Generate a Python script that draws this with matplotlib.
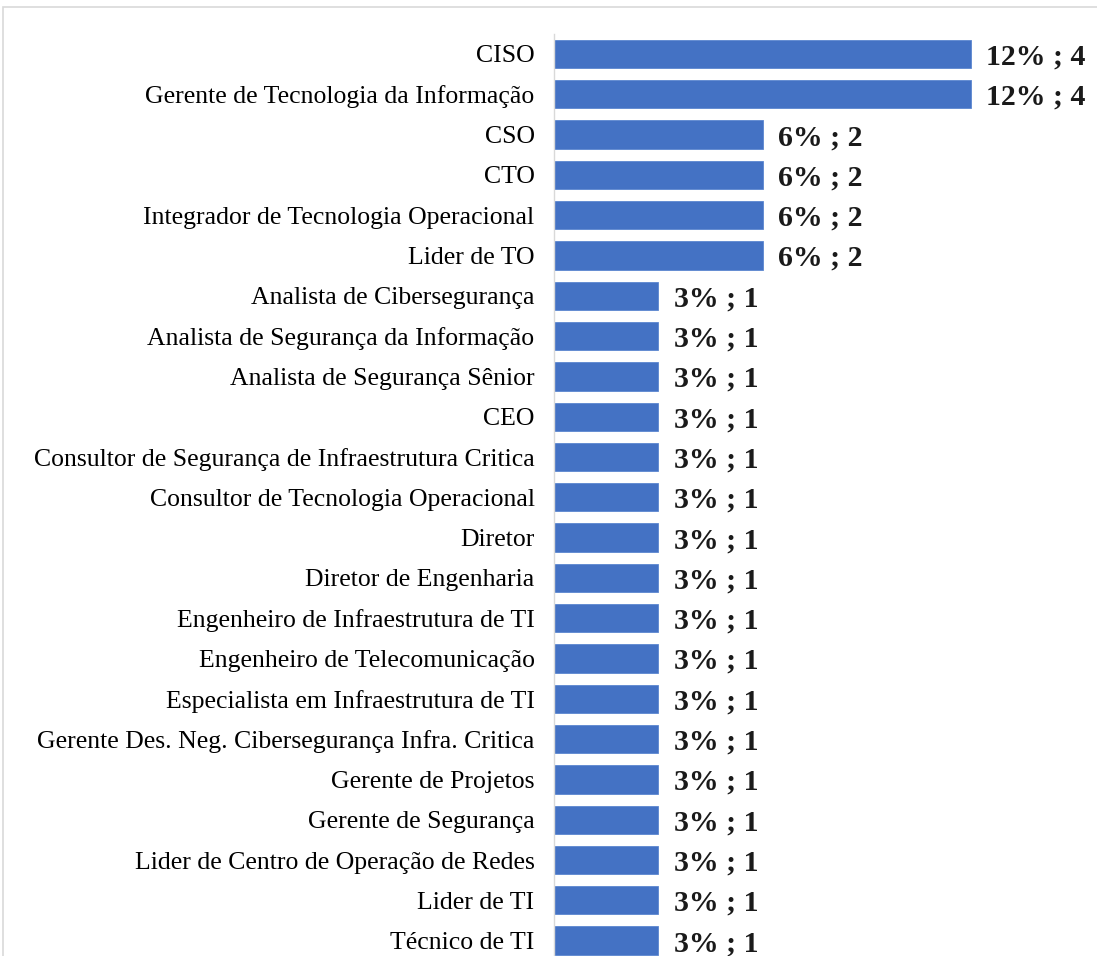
import matplotlib.pyplot as plt
from matplotlib.patches import Rectangle

# Data (top to bottom)
cargos = [
    "CISO",
    "Gerente de Tecnologia da Informação",
    "CSO",
    "CTO",
    "Integrador de Tecnologia Operacional",
    "Lider de TO",
    "Analista de Cibersegurança",
    "Analista de Segurança da Informação",
    "Analista de Segurança Sênior",
    "CEO",
    "Consultor de Segurança de Infraestrutura Critica",
    "Consultor de Tecnologia Operacional",
    "Diretor",
    "Diretor de Engenharia",
    "Engenheiro de Infraestrutura de TI",
    "Engenheiro de Telecomunicação",
    "Especialista em Infraestrutura de TI",
    "Gerente Des. Neg. Cibersegurança Infra. Critica",
    "Gerente de Projetos",
    "Gerente de Segurança",
    "Lider de Centro de Operação de Redes",
    "Lider de TI",
    "Técnico de TI",
]
contagem = [4, 4, 2, 2, 2, 2, 1, 1, 1, 1, 1, 1, 1, 1, 1, 1, 1, 1, 1, 1, 1, 1, 1]
percentual = [12, 12, 6, 6, 6, 6, 3, 3, 3, 3, 3, 3, 3, 3, 3, 3, 3, 3, 3, 3, 3, 3, 3]

plt.rcParams['font.family'] = ['Liberation Serif', 'DejaVu Serif']

W, H = 1097, 956
fig = plt.figure(figsize=(W / 100, H / 100), dpi=100)

# light chart border (top/left visible, right/bottom cut off)
fig.patches.append(Rectangle((3 / W, -0.05), 1.2, 1 - 7 / H + 0.05,
                             transform=fig.transFigure, fill=False,
                             edgecolor="#d9d9d9", linewidth=1.2))

n = len(cargos)
row = 40.3
x0 = 554
unit = 104.25
ax_top = 54 - row / 2
ax_h = row * n
ax = fig.add_axes([x0 / W, (H - ax_top - ax_h) / H, (W - x0) / W, ax_h / H])

y = list(range(n))
ax.barh(y, contagem, height=0.7, color="#4472C4", edgecolor="#5b86d0", linewidth=0.6)
ax.set_ylim(n - 0.5, -0.5)
ax.set_xlim(0, (W - x0) / unit)

ax.set_yticks(y)
ax.set_yticklabels(cargos, fontsize=18.5)
ax.tick_params(axis="y", length=0, pad=14)
ax.set_xticks([])

for s in ["top", "right", "bottom"]:
    ax.spines[s].set_visible(False)
ax.spines["left"].set_color("#d9d9d9")
ax.spines["left"].set_linewidth(1.0)

for i, (c, p) in enumerate(zip(contagem, percentual)):
    ax.annotate(f"{p}% ; {c}", xy=(c, i), xytext=(11, 0), textcoords="offset points",
                ha="left", va="center_baseline", fontsize=21.5, fontweight="bold", color="#1a1a1a")

fig.savefig("out.png", dpi=100)
